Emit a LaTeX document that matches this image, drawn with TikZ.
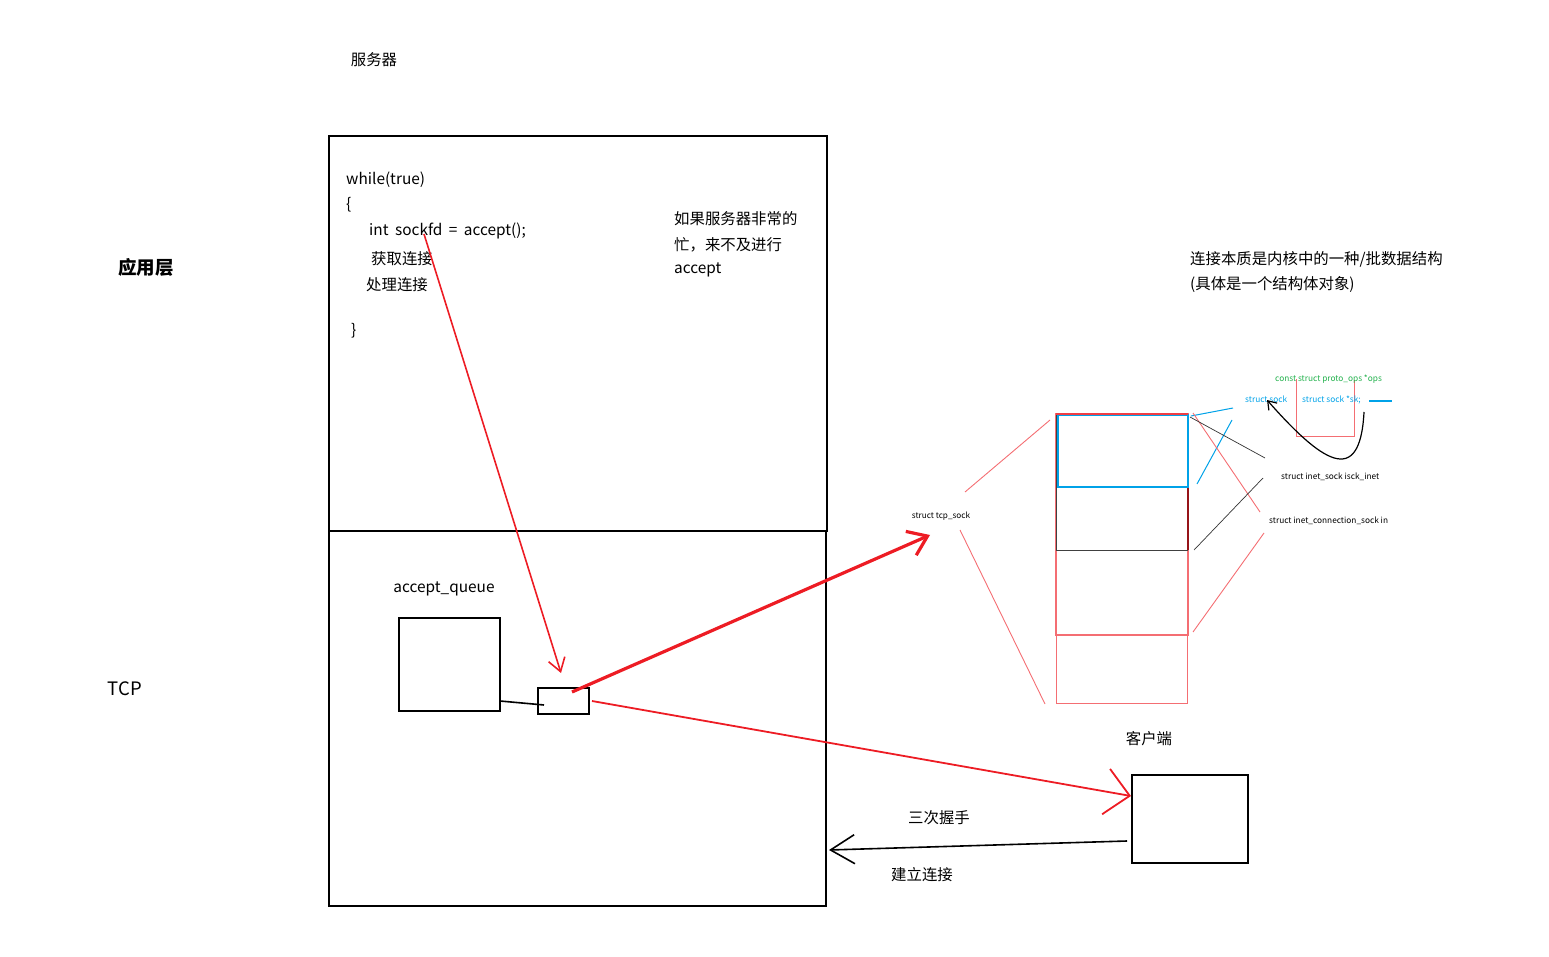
\documentclass[tikz,border=0pt]{standalone}
\usepackage{fontspec}
\setmainfont{Noto Sans CJK SC}
\usetikzlibrary{arrows.meta}
\definecolor{pred}{RGB}{237,28,36}
\definecolor{pblue}{RGB}{0,162,232}
\definecolor{pgreen}{RGB}{34,177,76}
\definecolor{lred}{RGB}{244,110,115}
\definecolor{dred}{RGB}{150,20,25}
\begin{document}
\begin{tikzpicture}[x=1pt,y=-1pt,
  txt/.style={inner sep=0pt,font=\fontsize{15.4}{18}\selectfont},
  ltxt/.style={txt,anchor=west},
  small/.style={inner sep=0pt,anchor=west,font=\fontsize{8.3}{9}\selectfont},
  bigbox/.style={draw,line width=2.9pt,inner sep=0pt,outer sep=0pt,anchor=north west},
  thinbox/.style={draw,line width=1.7pt,inner sep=0pt,outer sep=0pt,anchor=north west},
  memrect/.style={draw,line width=1pt,inner sep=0pt,outer sep=0pt,anchor=north west},
  barbS/.style={-{Straight Barb[length=13pt,width=17pt]}},
]
\useasboundingbox (0,0) rectangle (1549,957);

% titles
\node[txt] (srv) at (374,60) {服务器};
\node[inner sep=0pt,font=\fontsize{18.5}{20}\selectfont\bfseries] (app) at (146,267) {应用层};
\node[inner sep=0pt,font=\fontsize{18.5}{20}\selectfont] (tcp) at (125,689) {TCP};

% server boxes
\node[bigbox,minimum width=498,minimum height=395] (upper) at (329,136) {};
\node[bigbox,minimum width=497,minimum height=375] (lower) at (329,531) {};

% code
\node[ltxt] (c1) at (346,180) {while(true)};
\node[ltxt] (c2) at (346,205) {\{};
\node[ltxt] (c3) at (369,231) {\spaceskip=0.42em int sockfd = accept();};
\node[ltxt] (c4) at (371,259) {获取连接};
\node[ltxt] (c5) at (366,285) {处理连接};
\node[ltxt] (c6) at (351,331) {\}};

\node[ltxt] (n1) at (674,219) {如果服务器非常的};
\node[ltxt] (n2) at (674,245) {忙，来不及进行};
\node[ltxt] (n3) at (674,270) {accept};

% accept queue
\node[txt] (aqlabel) at (444,589) {accept\_queue};
\node[bigbox,minimum width=101,minimum height=93] (aq) at (399,618) {};
\node[thinbox,minimum width=51,minimum height=26] (item) at (538,688) {};
\coordinate (aqout) at (500,701);
\coordinate (itemin) at (544,705);
\draw[line width=1.6pt] (aqout) -- (itemin);

% red arrow from accept() to item
\coordinate (acc) at (424,234);
\coordinate (itemtop) at (561,673);
\draw[pred,line width=1.6pt,barbS] (acc) -- (itemtop);

% big red arrow to tcp_sock
\coordinate (bstart) at (572,692);
\coordinate (btip) at (930,535);
\draw[pred,line width=3.2pt,-{Straight Barb[length=18pt,width=26pt]}] (bstart) -- (btip);

% red arrow to client
\node[bigbox,minimum width=116,minimum height=88] (client) at (1132,775) {};
\node[txt] (clientlabel) at (1149,739) {客户端};
\coordinate (rstart) at (592,701);
\coordinate (rtip) at (1131,796);
\draw[pred,line width=1.8pt,-{Straight Barb[length=24pt,width=46pt]}] (rstart) -- (rtip);

% black arrow back
\coordinate (kstart) at (1127,841);
\coordinate (ktip) at (829,850);
\draw[line width=1.6pt,-{Straight Barb[length=24pt,width=29pt]}] (kstart) -- (ktip);
\node[txt] (hs) at (939,818) {三次握手};
\node[txt] (conn) at (922,875) {建立连接};

% tcp_sock structure
\node[inner sep=0pt,font=\fontsize{8.2}{9}\selectfont] (tcpsock) at (941,516) {struct tcp\_sock};
\coordinate (z1a) at (965,492); \coordinate (z1b) at (1050,420);
\coordinate (z2a) at (960,530); \coordinate (z2b) at (1045,704);
\draw[lred,line width=0.9pt] (z1a) -- (z1b);
\draw[lred,line width=0.9pt] (z2a) -- (z2b);

\node[memrect,draw=lred,minimum width=131,minimum height=68] (m4) at (1056,635) {};
\node[memrect,draw=lred,line width=1.3pt,minimum width=132,minimum height=221] (m3) at (1056,414) {};
\node[memrect,draw=none,minimum width=132,minimum height=136] (m2) at (1056,414) {};
\draw[black!75,line width=1pt] (m2.north west) -- (m2.south west) -- (m2.south east);
\draw[dred,line width=1.2pt] (m2.south east) -- (m2.north east);
\node[memrect,draw=pblue,line width=1.6pt,minimum width=130,minimum height=72] (m1) at (1058,415) {};
\draw[pred!85,line width=1.4pt] (m2.north west) -- (m2.north east);

% lines to field labels
\draw[pblue,line width=1pt] (1191,416) -- (1233,408);
\draw[pblue,line width=1pt] (1197,484) -- (1232,420);
\draw[lred,line width=0.9pt] (1193,413) -- (1260,512);
\draw[black!80,line width=0.7pt] (1190,417) -- (1265,458);
\draw[black!80,line width=0.7pt] (1194,550) -- (1263,478);
\draw[lred,line width=0.9pt] (1193,632) -- (1264,533);

\node[small] (isk) at (1281,477) {struct inet\_sock isck\_inet};
\node[small] (icsk) at (1269,521) {struct inet\_connection\_sock in};

% sock details
\draw[lred,line width=0.9pt] (1296,379) -- (1296,436) -- (1354,436) -- (1354,380);
\node[small,text=pgreen] (ops) at (1275,379) {const struct proto\_ops *ops};
\node[small,text=pblue] (sock) at (1245,399) {struct sock};
\node[small,text=pblue] (sk) at (1302,400) {struct sock *sk;};
\coordinate (bl1) at (1369,401); \coordinate (bl2) at (1392,401);
\draw[pblue,line width=1.2pt] (bl1) -- (bl2);
\coordinate (cs) at (1364,412);
\coordinate (ce) at (1267,400);
\draw[line width=1.2pt,-{Straight Barb[length=8pt,width=11pt]}] (cs) .. controls (1360,490) and (1320,460) .. (ce);

% description
\node[ltxt] (d1) at (1190,259) {连接本质是内核中的一种/批数据结构};
\node[ltxt] (d2) at (1190,285) {(具体是一个结构体对象)};
\end{tikzpicture}
\end{document}
